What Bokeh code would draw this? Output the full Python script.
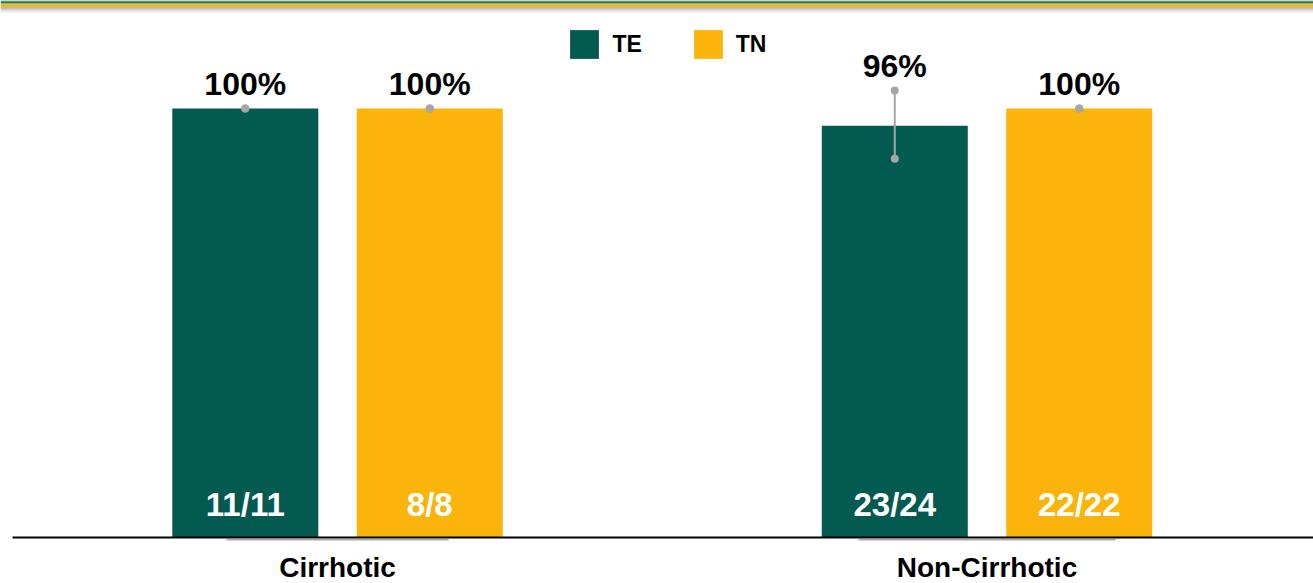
from bokeh.plotting import figure
from bokeh.models import ColumnDataSource, Range1d, Legend, LegendItem
from bokeh.core.properties import value
from bokeh.embed import file_html
from bokeh.resources import INLINE

# ---- data ----
groups = ["Cirrhotic", "Non-Cirrhotic"]
series = ["TE", "TN"]
te_pct = [100, 96]
tn_pct = [100, 100]
te_frac = ["11/11", "23/24"]
tn_frac = ["8/8", "22/22"]
te_ci_low = [100, 88.3]
te_ci_high = [100, 104.2]
tn_ci_low = [100, 100]
tn_ci_high = [100, 100]

TE_COLOR = "#035a50"
TN_COLOR = "#fbb40b"
FONT_NAME = "Liberation Sans"
FONT = value(FONT_NAME)

W, H = 1313, 583
p = figure(width=W, height=H, output_backend="svg", toolbar_location=None,
           x_range=Range1d(-0.5189, 1.5027), y_range=Range1d(-10.72, 125.17),
           min_border=0, min_border_left=0, min_border_right=0,
           min_border_top=0, min_border_bottom=0)
p.xaxis.visible = False
p.yaxis.visible = False
p.grid.visible = False
p.outline_line_color = None
p.background_fill_color = "white"
p.border_fill_color = "white"

gx = list(range(len(groups)))
off = 0.142
bw = 0.2248

te_src = ColumnDataSource(dict(x=[g - off for g in gx], top=te_pct, frac=te_frac,
                               lo=te_ci_low, hi=te_ci_high,
                               lab=[f"{v:.0f}%" for v in te_pct],
                               ly=[max(a, b) + 5.6 for a, b in zip(te_pct, te_ci_high)]))
tn_src = ColumnDataSource(dict(x=[g + off for g in gx], top=tn_pct, frac=tn_frac,
                               lo=tn_ci_low, hi=tn_ci_high,
                               lab=[f"{v:.0f}%" for v in tn_pct],
                               ly=[max(a, b) + 5.6 for a, b in zip(tn_pct, tn_ci_high)]))

r_te = p.vbar(x="x", top="top", bottom=0, width=bw, source=te_src,
              fill_color=TE_COLOR, line_color=None)
r_tn = p.vbar(x="x", top="top", bottom=0, width=bw, source=tn_src,
              fill_color=TN_COLOR, line_color=None)

# top decorative band
xs0, xs1 = -0.5189, 1.5027
def ydat(py):
    return (537 - py) / 4.29
band = [(0, 1, "#1e5f3a"), (1, 3, "#2f7d45"), (3, 4, "#8f9f3a"),
        (4, 7, "#f4b51a"), (7, 8, "#9a9a9a"), (8, 9, "#b3b3b3"),
        (9, 10, "#c8c8c8"), (10, 11, "#dadada"), (11, 12, "#e9e9e9"),
        (12, 13, "#f5f5f5")]
p.quad(left=[xs0] * len(band), right=[xs1] * len(band),
       top=[ydat(b[0]) for b in band], bottom=[ydat(b[1]) for b in band],
       fill_color=[b[2] for b in band], line_color=None)

# error bars
for src in (te_src, tn_src):
    p.segment(x0="x", x1="x", y0="lo", y1="hi", source=src,
              line_color="#a6a6a6", line_width=2)
    p.scatter(x="x", y="lo", source=src, size=8, fill_color="#a6a6a6", line_color=None)
    p.scatter(x="x", y="hi", source=src, size=8, fill_color="#a6a6a6", line_color=None)

# labels
for src in (te_src, tn_src):
    p.text(x="x", y="ly", text="lab", source=src, text_font=FONT,
           text_font_style="bold", text_font_size="32px", text_color="black",
           text_align="center", text_baseline="middle")
    p.text(x="x", y=7.7, text="frac", source=src, text_font=FONT,
           text_font_style="bold", text_font_size="33px", text_color="white",
           text_align="center", text_baseline="middle")

# baseline and shadow
p.segment(x0=[-0.5004], x1=[xs1], y0=[0], y1=[0], line_color="black", line_width=2)
half = [0.171, 0.198]
p.segment(x0=[g - h for g, h in zip(gx, half)], x1=[g + h for g, h in zip(gx, half)],
          y0=[-0.55] * 2, y1=[-0.55] * 2, line_color="#a9a9a9", line_width=1.5)

# category labels
p.text(x=gx, y=[-6.9] * len(gx), text=groups, text_font=FONT,
       text_font_style="bold", text_font_size="28px", text_color="black",
       text_align="center", text_baseline="middle")

legend = Legend(items=[LegendItem(label=series[0], renderers=[r_te]),
                       LegendItem(label=series[1], renderers=[r_tn])],
                orientation="horizontal", location=(566.4, H - 62.4),
                glyph_width=36, glyph_height=36, label_standoff=10, spacing=48,
                padding=0, margin=0, border_line_alpha=0, background_fill_alpha=0,
                label_text_font=FONT_NAME, label_text_font_style="bold",
                label_text_color="black",
                label_text_font_size="23px", label_height=36)
p.add_layout(legend)

html = file_html(p, INLINE)
html = html.replace("<head>", "<head><style>html,body{margin:0 !important;padding:0 !important;}</style>", 1)
open("out.html", "w").write(html)
